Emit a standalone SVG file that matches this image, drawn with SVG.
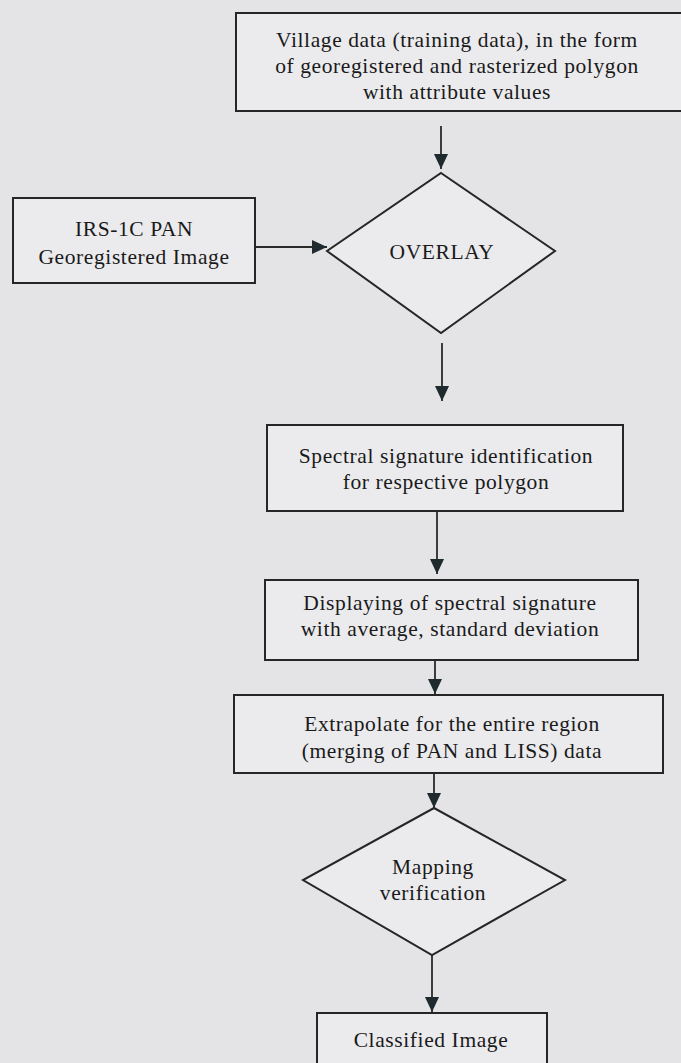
<svg xmlns="http://www.w3.org/2000/svg" width="681" height="1063" viewBox="0 0 681 1063">
<defs>
<style>
.box{fill:#ebebee;stroke:#262626;stroke-width:2}
.dia{fill:#ebebee;stroke:#262626;stroke-width:2}
.t{font-family:"Liberation Serif","DejaVu Serif",serif;font-size:21.5px;letter-spacing:0.6px;fill:#1a1a1a;text-anchor:middle;dominant-baseline:central}
.c{stroke:#2a2a2a;stroke-width:1.8;fill:none}
</style>
<marker id="ah" markerUnits="userSpaceOnUse" markerWidth="16" markerHeight="16" viewBox="0 0 16 16" refX="15" refY="8" orient="auto">
<path d="M0,1 L15,8 L0,15 Z" fill="#1e2a2e"/>
</marker>
</defs>
<rect x="0" y="0" width="681" height="1063" fill="#e4e4e7"/>
<g id="connectors">
<line class="c" x1="441" y1="126" x2="441" y2="169" marker-end="url(#ah)"/>
<line class="c" x1="256" y1="247" x2="327" y2="247" marker-end="url(#ah)"/>
<line class="c" x1="442" y1="343" x2="442" y2="401" marker-end="url(#ah)"/>
<line class="c" x1="437" y1="512" x2="437" y2="574" marker-end="url(#ah)"/>
<line class="c" x1="435" y1="661" x2="435" y2="694" marker-end="url(#ah)"/>
<line class="c" x1="434" y1="774" x2="434" y2="808" marker-end="url(#ah)"/>
<line class="c" x1="432" y1="955" x2="432" y2="1012" marker-end="url(#ah)"/>
</g>
<g id="village">
<rect class="box" x="236" y="13" width="460" height="98"/>
<text class="t" x="457" y="40">Village data (training data), in the form</text>
<text class="t" x="457" y="66">of georegistered and rasterized polygon</text>
<text class="t" x="457" y="92">with attribute values</text>
</g>
<g id="irs">
<rect class="box" x="13" y="198" width="242" height="85"/>
<text class="t" x="134" y="229">IRS-1C PAN</text>
<text class="t" x="134" y="257">Georegistered Image</text>
</g>
<g id="overlay">
<polygon class="dia" points="441,173 555,251 441,333 327,251"/>
<text class="t" x="442" y="252">OVERLAY</text>
</g>
<g id="spectral">
<rect class="box" x="267" y="425" width="356" height="86"/>
<text class="t" x="446" y="456">Spectral signature identification</text>
<text class="t" x="446" y="482">for respective polygon</text>
</g>
<g id="displaying">
<rect class="box" x="265" y="580" width="373" height="80"/>
<text class="t" x="450" y="603">Displaying of spectral signature</text>
<text class="t" x="450" y="629">with average, standard deviation</text>
</g>
<g id="extrapolate">
<rect class="box" x="234" y="695" width="429" height="78"/>
<text class="t" x="452" y="724">Extrapolate for the entire region</text>
<text class="t" x="452" y="751">(merging of PAN and LISS) data</text>
</g>
<g id="mapping">
<polygon class="dia" points="434,808 565,880 432,955 303,880"/>
<text class="t" x="433" y="867">Mapping</text>
<text class="t" x="433" y="893">verification</text>
</g>
<g id="classified">
<rect class="box" x="317" y="1013" width="230" height="70"/>
<text class="t" x="431" y="1040">Classified Image</text>
</g>
</svg>
